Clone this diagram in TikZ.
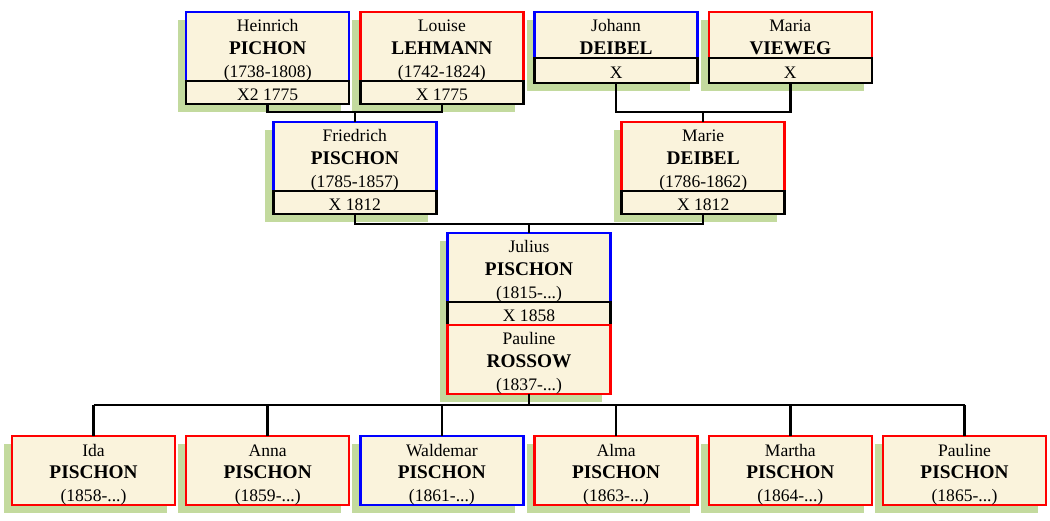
\documentclass[tikz,border=0pt]{standalone}
\usepackage{fontspec}
\setmainfont{Liberation Serif}
\usetikzlibrary{positioning, calc, backgrounds}
\definecolor{cream}{HTML}{FAF3DC}
\definecolor{leaf}{HTML}{C3DA9E}
\newcommand{\sname}[1]{{\fontsize{11}{13}\selectfont\bfseries #1}}
\newcommand{\padtop}{\rule{0pt}{9.5pt}}
\newcommand{\lifespan}[1]{\smash{(#1)}}

\begin{document}
\begin{tikzpicture}[
        x=0.02cm, y=-0.02cm,
        card/.style={draw, rectangle, fill=cream, line width=1.4pt, outer sep=0pt, inner sep=1pt,
            minimum width=3.26cm, align=center, font=\fontsize{10}{13}\selectfont},
        person/.style={card, minimum height=1.38cm},
        male/.style={person, draw=blue},
        female/.style={person, draw=red},
        wed/.style={card, draw=black, minimum height=0.46cm, execute at begin node={\rule{0pt}{9.5pt}}},
        link/.style={line width=1.4pt},
        shade/.style={fill=leaf}
    ]
    \useasboundingbox (0,0) rectangle (1050,520);

    % Grandparents
    \node[male, anchor=north] (heinrich) at (267.7,12) {\padtop Heinrich\\\sname{PICHON}\\\lifespan{1738-1808}};
    \node[wed, below=0pt of heinrich] (heinrich-x) {X2 1775};
    \node[female, anchor=north] (louise) at (441.9,12) {\padtop Louise\\\sname{LEHMANN}\\\lifespan{1742-1824}};
    \node[wed, below=0pt of louise] (louise-x) {X 1775};
    \node[male, anchor=north, minimum height=0.92cm] (johann) at (616.1,12) {\padtop Johann\\\sname{DEIBEL}};
    \node[wed, below=0pt of johann, minimum height=0.5cm] (johann-x) {X};
    \node[female, anchor=north, minimum height=0.92cm] (maria) at (790.3,12) {\padtop Maria\\\sname{VIEWEG}};
    \node[wed, below=0pt of maria, minimum height=0.5cm] (maria-x) {X};

    % Parents
    \coordinate (pl) at ($(heinrich-x.south)!.5!(louise-x.south)+(0,8)$);
    \coordinate (dv) at ($(johann-x.south)!.5!(maria-x.south)+(0,29)$);
    \node[male, anchor=north] (friedrich) at ($(pl)+(0,10)$) {\padtop Friedrich\\\sname{PISCHON}\\\lifespan{1785-1857}};
    \node[wed, below=0pt of friedrich] (friedrich-x) {X 1812};
    \node[female, anchor=north] (marie) at ($(dv)+(0,10)$) {\padtop Marie\\\sname{DEIBEL}\\\lifespan{1786-1862}};
    \node[wed, below=0pt of marie] (marie-x) {X 1812};

    % Julius and Pauline
    \coordinate (fm) at ($(friedrich-x.south)!.5!(marie-x.south)+(0,10)$);
    \node[male, anchor=north] (julius) at ($(fm)+(0,9)$) {\padtop Julius\\\sname{PISCHON}\\\lifespan{1815-...}};
    \node[wed, below=0pt of julius] (julius-x) {X 1858};
    \node[female, below=0pt of julius-x] (pauline) {\padtop Pauline\\\sname{ROSSOW}\\\lifespan{1837-...}};

    % Children
    \foreach \id/\first/\born/\col [count=\i from 0] in {ida/Ida/1858/red, anna/Anna/1859/red,
        waldemar/Waldemar/1861/blue, alma/Alma/1863/red, martha/Martha/1864/red, pauline-k/Pauline/1865/red}
        \node[person, draw=\col, anchor=north] (\id) at (93.5+174.2*\i,436) {\padtop\first\\\sname{PISCHON}\\\lifespan{\born-...}};

    % Lines
    \draw[link] (heinrich-x.south) |- (pl) -| (louise-x.south);
    \draw[link] (pl) -- (friedrich.north);
    \draw[link] (johann-x.south) |- (dv) -| (maria-x.south);
    \draw[link] (dv) -- (marie.north);
    \draw[link] (friedrich-x.south) |- (fm) -| (marie-x.south);
    \draw[link] (fm) -- (julius.north);
    \draw[link] (pauline.south) -- ++(0,11) coordinate (kids);
    \draw[link] (kids -| ida.north) -- (kids -| pauline-k.north);
    \foreach \id in {ida, anna, waldemar, alma, martha, pauline-k}
        \draw[link] (kids -| \id.north) -- (\id.north);

    % Shadows
    \begin{scope}[on background layer]
        \foreach \a/\b in {heinrich/heinrich-x, louise/louise-x, johann/johann-x, maria/maria-x,
            friedrich/friedrich-x, marie/marie-x, julius/pauline, ida/ida, anna/anna,
            waldemar/waldemar, alma/alma, martha/martha, pauline-k/pauline-k}
            \fill[shade] ([shift={(-8,8)}]\a.north west) rectangle ([shift={(-8,8)}]\b.south east);
    \end{scope}
\end{tikzpicture}
\end{document}
